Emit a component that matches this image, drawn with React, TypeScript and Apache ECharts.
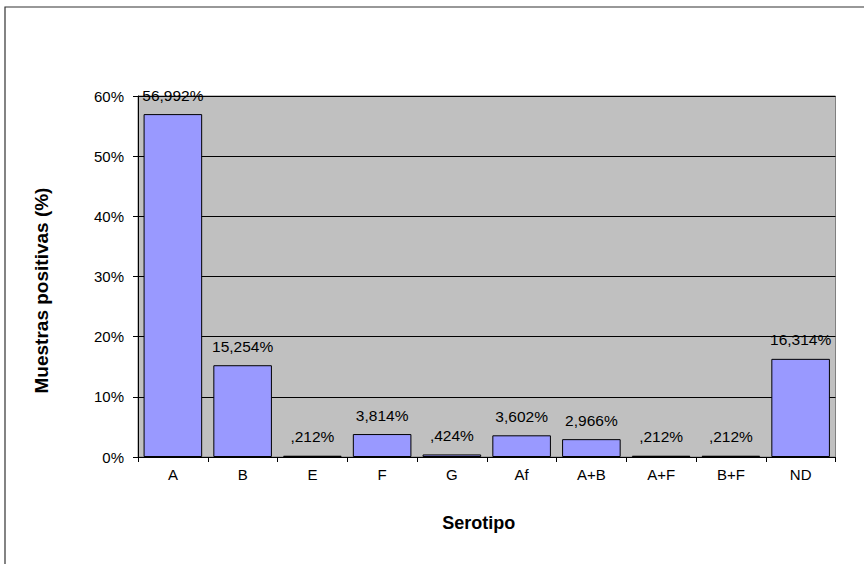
import React, { useEffect, useRef } from "react";
import * as echarts from "echarts";

const categories = ["A", "B", "E", "F", "G", "Af", "A+B", "A+F", "B+F", "ND"];
const values = [56.992, 15.254, 0.212, 3.814, 0.424, 3.602, 2.966, 0.212, 0.212, 16.314];
const yTicks = [0, 10, 20, 30, 40, 50, 60];

const fmt = (v: number) => {
  let s = v.toFixed(3).replace(".", ",");
  if (s.startsWith("0,")) s = s.slice(1);
  return s + "%";
};

export default function App() {
  const ref = useRef<HTMLDivElement>(null);
  useEffect(() => {
    const chart = echarts.init(ref.current!, null, { renderer: "svg" });
    const font = "'Liberation Sans', Arial, sans-serif";
    chart.setOption({
      animation: false,
      textStyle: { fontFamily: font },
      graphic: [
        {
          type: "rect",
          shape: { x: 5, y: 7, width: 900, height: 600 },
          style: { fill: "none", stroke: "#333", lineWidth: 1.2 },
          silent: true,
          z: 100,
        },
      ],
      grid: {
        left: 138,
        right: 28.5,
        top: 96,
        bottom: 107,
        show: true,
        backgroundColor: "#C0C0C0",
        borderColor: "#808080",
        borderWidth: 1,
      },
      xAxis: {
        type: "category",
        data: categories,
        name: "Serotipo",
        nameLocation: "middle",
        nameGap: 57,
        nameTextStyle: {
          fontSize: 18,
          fontWeight: "bold",
          color: "#000",
          fontFamily: font,
          padding: [0, 16, 0, 0],
        },
        axisLine: { lineStyle: { color: "#000", width: 1 } },
        axisTick: { show: true, length: 5, alignWithLabel: false, lineStyle: { color: "#000" } },
        axisLabel: { color: "#000", fontSize: 15, margin: 10, fontFamily: font },
      },
      yAxis: {
        type: "value",
        min: 0,
        max: 60,
        interval: 10,
        name: "Muestras positivas (%)",
        nameLocation: "middle",
        nameGap: 87,
        nameTextStyle: {
          fontSize: 19,
          fontWeight: "bold",
          color: "#000",
          fontFamily: font,
          padding: [0, 28, 0, 0],
        },
        axisLine: { show: true, lineStyle: { color: "#000", width: 1 } },
        axisTick: { show: true, length: 5, lineStyle: { color: "#000" } },
        axisLabel: {
          color: "#000",
          fontSize: 15,
          margin: 14,
          fontFamily: font,
          formatter: (v: number) => (yTicks.includes(v) ? v + "%" : ""),
        },
        splitLine: { show: true, lineStyle: { color: "#000", width: 1 } },
      },
      series: [
        {
          type: "bar",
          data: values,
          barCategoryGap: "16%",
          itemStyle: { color: "#9999FF", borderColor: "#000", borderWidth: 1 },
          label: {
            show: true,
            position: "top",
            distance: 11,
            color: "#000",
            fontSize: 15.5,
            fontFamily: font,
            formatter: (p: any) => fmt(p.value),
          },
        },
      ],
    });
    return () => chart.dispose();
  }, []);
  return (
    <div
      ref={ref}
      style={{ position: "absolute", left: 0, top: 0, width: 864, height: 564, background: "#fff" }}
    />
  );
}
